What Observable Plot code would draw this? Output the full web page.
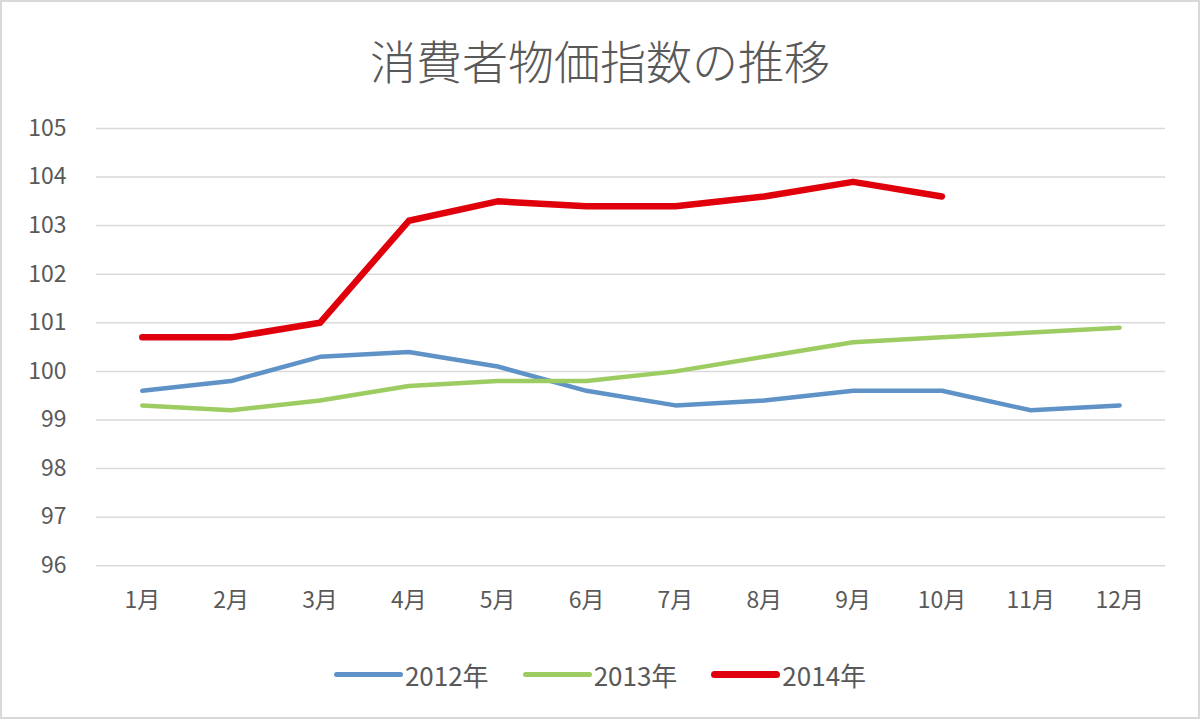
<!DOCTYPE html>
<html>
<head>
<meta charset="utf-8">
<script src="https://cdn.jsdelivr.net/npm/d3@7"></script>
<script src="https://cdn.jsdelivr.net/npm/@observablehq/plot@0.6"></script>
<style>
  html, body { margin: 0; padding: 0; background: #fff; }
  #wrap { position: relative; width: 1200px; height: 719px; box-sizing: border-box; border: 2px solid #d9d9d9; background: #fff; overflow: hidden; font-family: "Noto Sans CJK JP", "Liberation Sans", sans-serif; }
  #title { position: absolute; left: 0; width: 1196px; top: 26px; text-align: center; font-size: 46px; font-weight: 300; color: #595959; line-height: 62px; }
  #chart { position: absolute; left: -2px; top: 98px; }
  #legend { position: absolute; left: 0; width: 1196px; top: 654px; display: flex; justify-content: center; align-items: center; gap: 34px; font-size: 26px; color: #595959; }
  .item { display: flex; align-items: center; }
  .sw { width: 69px; border-radius: 4px; margin-right: 2px; }
</style>
</head>
<body>
<div id="wrap">
  <div id="title">消費者物価指数の推移</div>
  <div id="chart"></div>
  <div id="legend"></div>
</div>
<script>
const months = ["1月","2月","3月","4月","5月","6月","7月","8月","9月","10月","11月","12月"];
const yTicks = [96, 97, 98, 99, 100, 101, 102, 103, 104, 105];
const seriesNames = ["2012年", "2013年", "2014年"];
const seriesColors = ["#5f93c8", "#9dcd62", "#e0000c"];
const seriesWidths = [4.5, 4.5, 6.5];
const values2012 = [99.6, 99.8, 100.3, 100.4, 100.1, 99.6, 99.3, 99.4, 99.6, 99.6, 99.2, 99.3];
const values2013 = [99.3, 99.2, 99.4, 99.7, 99.8, 99.8, 100.0, 100.3, 100.6, 100.7, 100.8, 100.9];
const values2014 = [100.7, 100.7, 101.0, 103.1, 103.5, 103.4, 103.4, 103.6, 103.9, 103.6];

const allValues = [values2012, values2013, values2014];
const rows = allValues.map((vals, s) => vals.map((v, i) => ({month: months[i], value: v, series: seriesNames[s]})));

const lineMarks = rows.map((data, s) => Plot.line(data, {
  x: "month", y: "value",
  stroke: seriesColors[s], strokeWidth: seriesWidths[s],
  strokeLinecap: "round", strokeLinejoin: "round"
}));

const chart = Plot.plot({
  width: 1200,
  height: 530,
  marginLeft: 96,
  marginRight: 33,
  marginTop: 28,
  marginBottom: 64,
  style: {fontFamily: '"Noto Sans CJK JP", "Liberation Sans", sans-serif', fontSize: "23px", color: "#595959", background: "transparent"},
  x: {type: "point", domain: months, padding: 0.5, label: null, tickSize: 0, tickPadding: 26},
  y: {domain: [96, 105], ticks: yTicks, label: null, tickSize: 0, tickPadding: 30},
  marks: [
    Plot.ruleY(yTicks, {stroke: "#d9d9d9", strokeWidth: 1.5}),
    ...lineMarks
  ]
});
chart.querySelectorAll("g[aria-label='y-axis tick label'] text, g[aria-label='x-axis tick label'] text").forEach(t => t.setAttribute("fill", "#595959"));
document.getElementById("chart").appendChild(chart);

const legend = document.getElementById("legend");
seriesNames.forEach((name, s) => {
  const item = document.createElement("div");
  item.className = "item";
  const sw = document.createElement("div");
  sw.className = "sw";
  sw.style.background = seriesColors[s];
  sw.style.height = (s === 2 ? 7 : 5) + "px";
  const label = document.createElement("span");
  label.textContent = name;
  item.appendChild(sw);
  item.appendChild(label);
  legend.appendChild(item);
});
</script>
</body>
</html>
